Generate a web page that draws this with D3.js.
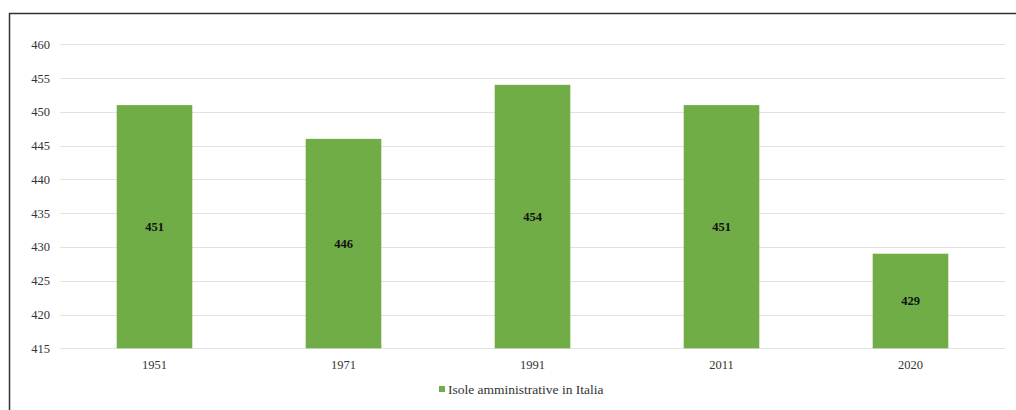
<!DOCTYPE html>
<html><head><meta charset="utf-8">
<script src="https://cdn.jsdelivr.net/npm/d3@7"></script>
<style>
html,body{margin:0;padding:0;background:#fff;}
svg{display:block;}
</style></head>
<body>
<script>
const categories = ["1951", "1971", "1991", "2011", "2020"];
const values = [451, 446, 454, 451, 429];
const yTicks = [415, 420, 425, 430, 435, 440, 445, 450, 455, 460];
const seriesName = "Isole amministrative in Italia";

const W = 1016, H = 410;
const svg = d3.select("body").append("svg").attr("width", W).attr("height", H);

// frame
svg.append("line").attr("x1", 9).attr("x2", W).attr("y1", 13.5).attr("y2", 13.5)
  .attr("stroke", "#333").attr("stroke-width", 1.5);
svg.append("line").attr("x1", 9.5).attr("x2", 9.5).attr("y1", 13).attr("y2", H)
  .attr("stroke", "#333").attr("stroke-width", 1.5);

const x = d3.scaleBand().domain(categories).range([60, 1005]).paddingInner(0.6).paddingOuter(0.3);
const y = d3.scaleLinear().domain([415, 460]).range([348.3, 44.3]);

const font = "Liberation Serif, Times New Roman, serif";

// grid
svg.append("g").selectAll("line").data(yTicks).join("line")
  .attr("x1", 60).attr("x2", 1005)
  .attr("y1", d => Math.round(y(d)) + 0.5).attr("y2", d => Math.round(y(d)) + 0.5)
  .attr("stroke", "#e2e2e2").attr("stroke-width", 1.2);

// y axis labels
const yAxis = d3.axisLeft(y).tickValues(yTicks).tickSize(0).tickPadding(0);
const gy = svg.append("g").attr("transform", "translate(50,0)").call(yAxis)
  .attr("font-family", font).attr("font-size", 12.5);
gy.select(".domain").remove();
gy.selectAll("text").attr("fill", "#333");

// bars
svg.append("g").selectAll("rect").data(values).join("rect")
  .attr("x", (d, i) => x(categories[i]))
  .attr("width", x.bandwidth())
  .attr("y", d => y(d))
  .attr("height", d => y(415) - y(d))
  .attr("fill", "#70ad47");

// value labels
svg.append("g").selectAll("text").data(values).join("text")
  .attr("x", (d, i) => x(categories[i]) + x.bandwidth() / 2)
  .attr("y", d => (y(d) + y(415)) / 2)
  .attr("dy", "0.35em")
  .attr("text-anchor", "middle")
  .attr("font-family", font).attr("font-size", 12.5).attr("font-weight", "bold")
  .attr("fill", "#111")
  .text(d => d);

// x axis
const xAxis = d3.axisBottom(x).tickSize(0).tickPadding(0);
const gx = svg.append("g").attr("transform", "translate(0,360)").call(xAxis)
  .attr("font-family", font).attr("font-size", 12.5);
gx.select(".domain").remove();
gx.selectAll("text").attr("fill", "#333").attr("dy", "0.71em");

// legend
const lg = svg.append("g").attr("transform", "translate(439,386)");
lg.append("rect").attr("x", 0).attr("y", 0).attr("width", 6).attr("height", 6).attr("fill", "#70ad47");
lg.append("text").attr("x", 9).attr("y", 3).attr("dy", "0.35em")
  .attr("font-family", font).attr("font-size", 13.5).attr("fill", "#333").text(seriesName);
</script>
</body></html>
